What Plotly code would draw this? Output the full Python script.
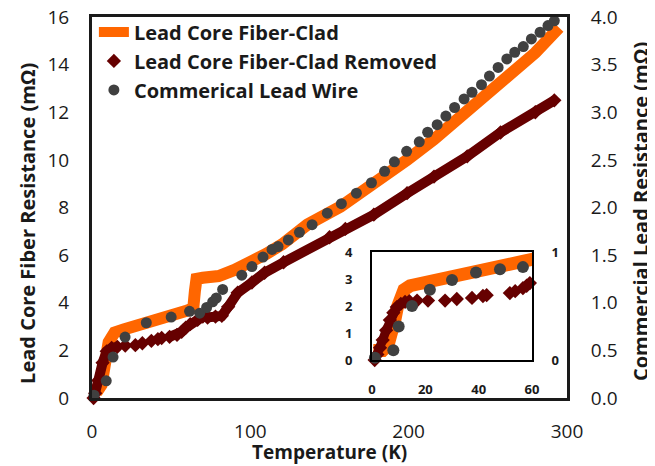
import plotly.graph_objects as go

# ---------------- data ----------------
# Main panel: Lead Core Fiber-Clad (left axis, mOhm)
clad_T = [0.5, 2, 4, 6, 7.5, 8.5, 9.5, 10.5, 12, 14.25, 20, 26.7, 39.2, 51.7, 59.2, 62, 64, 65, 66, 70, 80, 90,
          100, 110, 120, 136, 157, 178, 199, 216, 237, 259, 280, 295]
clad_R = [0.35, 0.3, 0.35, 0.55, 0.95, 1.45, 1.95, 2.35, 2.6, 2.75, 2.88, 2.99, 3.27, 3.5, 3.65, 3.72, 3.8, 4.5, 5.0,
          5.05, 5.12, 5.38, 5.65, 6.05, 6.45, 7.28, 8.04, 8.97, 10.0, 10.86, 12.04, 13.18, 14.5, 15.55]

# Main panel: Lead Core Fiber-Clad Removed (left axis, mOhm)
removed_T = [1, 2, 4, 6.7, 9.3, 12.4, 16, 21, 27.4, 31.8, 37.5, 41.6, 44, 49, 53.7, 56.6, 59.2, 62, 66.7, 70,
             73, 78, 82, 86, 92, 101, 109, 121, 150, 160, 178, 199, 216, 237, 258, 280, 292]
removed_R = [0, 0.2, 0.74, 1.48, 1.96, 2.1, 2.15, 2.2, 2.22, 2.3, 2.4, 2.47, 2.52, 2.57, 2.65, 2.78, 2.95, 3.1,
             3.28, 3.42, 3.38, 3.42, 3.45, 3.83, 4.42, 4.85, 5.26, 5.7, 6.75, 7.1, 7.7, 8.6, 9.3, 10.15, 11.15,
             12.0, 12.5]

# Main panel: Commerical Lead Wire (right axis, mOhm)
wire_T = [1.3, 9, 13.3, 20.9, 34.3, 50, 61.6, 68, 72.4, 76.2, 78.5, 82.5, 94.6, 101, 108, 113.7, 117.5, 124, 131,
          139, 148.6, 157.5, 167, 176.5, 184.8, 191, 198.7, 206.7, 212, 218, 223.5, 229, 235, 240, 246, 251,
          256.5, 262, 267, 272.4, 277.5, 283, 288, 292]
wire_R = [0.03, 0.18, 0.43, 0.64, 0.79, 0.85, 0.91, 0.89, 0.95, 1.01, 1.05, 1.14, 1.29, 1.38, 1.48, 1.56, 1.59,
          1.66, 1.74, 1.82, 1.94, 2.04, 2.15, 2.26, 2.38, 2.48, 2.59, 2.69, 2.79, 2.87, 2.96, 3.05, 3.14, 3.21,
          3.29, 3.38, 3.47, 3.56, 3.63, 3.69, 3.77, 3.84, 3.91, 3.96]

# Inset (0-60 K)
in_clad_T = [0.5, 2, 4, 6, 7.5, 8.5, 9.5, 10.5, 12, 14.25, 20, 26.7, 39.2, 51.7, 59.2, 61]
in_clad_R = [0.35, 0.3, 0.35, 0.55, 0.95, 1.45, 1.95, 2.35, 2.6, 2.75, 2.88, 2.99, 3.27, 3.52, 3.68, 3.75]
in_removed_T = [1, 2, 3, 4, 5.3, 6.7, 8, 9.3, 10.8, 12.4, 14, 16.9, 21, 27.4, 31.8, 37.5, 41.6, 43, 51.7, 53.7,
                56.6, 58, 59.2]
in_removed_R = [0, 0.2, 0.45, 0.74, 1.1, 1.48, 1.75, 1.96, 2.08, 2.15, 2.18, 2.2, 2.2, 2.2, 2.26, 2.3, 2.37, 2.4,
                2.48, 2.55, 2.66, 2.75, 2.85]
in_wire_T = [1.1, 8, 10, 15, 21.7, 30, 39, 48, 56.6]
in_wire_R = [0.02, 0.09, 0.31, 0.5, 0.65, 0.74, 0.81, 0.84, 0.86]

main_x_ticks = [0, 100, 200, 300]
main_left_ticks = [0, 2, 4, 6, 8, 10, 12, 14, 16]
main_right_ticks = [0.0, 0.5, 1.0, 1.5, 2.0, 2.5, 3.0, 3.5, 4.0]
inset_x_ticks = [0, 20, 40, 60]
inset_left_ticks = [0, 1, 2, 3, 4]
inset_right_ticks = [0, 1]

# ---------------- styling ----------------
ORANGE = "#FF6600"
DARKRED = "#660000"
GRAY = "#404040"
FONT = "Open Sans"

# dense part of the "removed" series is drawn as a thick band
removed_line_R = [r if (t <= 16 or t >= 48) else None for t, r in zip(removed_T, removed_R)]
in_removed_line_R = [r if (t <= 15) else None for t, r in zip(in_removed_T, in_removed_R)]

fig = go.Figure()

fig.add_trace(go.Scatter(x=clad_T, y=clad_R, mode="lines", name="Lead Core Fiber-Clad",
                         line=dict(color=ORANGE, width=12), xaxis="x", yaxis="y", cliponaxis=False))
fig.add_trace(go.Scatter(x=removed_T, y=removed_line_R, mode="lines", showlegend=False,
                         line=dict(color=DARKRED, width=10), xaxis="x", yaxis="y", cliponaxis=False,
                         connectgaps=False))
fig.add_trace(go.Scatter(x=removed_T, y=removed_R, mode="markers", name="Lead Core Fiber-Clad Removed",
                         marker=dict(symbol="diamond", color=DARKRED, size=11), xaxis="x", yaxis="y",
                         cliponaxis=False))
fig.add_trace(go.Scatter(x=wire_T, y=wire_R, mode="markers", name="Commerical Lead Wire",
                         marker=dict(symbol="circle", color=GRAY, size=11), xaxis="x", yaxis="y2",
                         cliponaxis=False))

# inset
fig.add_trace(go.Scatter(x=in_clad_T, y=in_clad_R, mode="lines", showlegend=False,
                         line=dict(color=ORANGE, width=13), xaxis="x2", yaxis="y3"))
fig.add_trace(go.Scatter(x=in_removed_T, y=in_removed_line_R, mode="lines", showlegend=False,
                         line=dict(color=DARKRED, width=9), xaxis="x2", yaxis="y3", connectgaps=False))
fig.add_trace(go.Scatter(x=in_removed_T, y=in_removed_R, mode="markers", showlegend=False,
                         marker=dict(symbol="diamond", color=DARKRED, size=11), xaxis="x2", yaxis="y3",
                         cliponaxis=False))
fig.add_trace(go.Scatter(x=in_wire_T, y=in_wire_R, mode="markers", showlegend=False,
                         marker=dict(symbol="circle", color=GRAY, size=12), xaxis="x2", yaxis="y4",
                         cliponaxis=False))

tickfont = dict(family=FONT, size=19, color="#1a1a1a")
inset_font = dict(family=FONT, size=13, color="#1a1a1a", weight="bold")
transparent = "rgba(0,0,0,0)"

common = dict(showgrid=False, zeroline=False, showline=True, automargin=False, ticks="outside",
              tickcolor=transparent, ticklabeloverflow="allow")

# the page body has an 8px margin, so the figure is 8px smaller and margins are compensated
fig.update_layout(
    width=647, height=458,
    margin=dict(l=84, r=88, t=9, b=68, autoexpand=False),
    paper_bgcolor="white", plot_bgcolor="white",
    font=dict(family=FONT, color="#1a1a1a"),
    showlegend=True,
    legend=dict(x=0.004, y=1.012, xanchor="left", yanchor="top", bgcolor="rgba(0,0,0,0)",
                font=dict(family=FONT, size=20, color="#1a1a1a", weight="bold"),
                tracegroupgap=0, itemwidth=30),
    xaxis=dict(domain=[0, 1], range=[0, 300], tickvals=main_x_ticks, linecolor="#1a1a1a", linewidth=3,
               mirror=True, ticklen=14, tickfont=tickfont, **common),
    yaxis=dict(domain=[0, 1], range=[0, 16], tickvals=main_left_ticks, linecolor="#1a1a1a", linewidth=3,
               ticklen=16, tickfont=tickfont, **common),
    yaxis2=dict(overlaying="y", side="right", range=[0, 4], tickvals=main_right_ticks,
                ticktext=[f"{v:.1f}" for v in main_right_ticks], linecolor="#1a1a1a", linewidth=3,
                ticklen=17, tickfont=tickfont, **common),
    xaxis2=dict(domain=[0.5895, 0.9263], anchor="y3", range=[0, 60], tickvals=inset_x_ticks,
                linecolor="black", linewidth=2, mirror=True, ticklen=16, tickfont=inset_font, **common),
    yaxis3=dict(domain=[0.0997, 0.3832], anchor="x2", range=[0, 4], tickvals=inset_left_ticks,
                linecolor="black", linewidth=2, ticklen=15, tickfont=inset_font, **common),
    yaxis4=dict(overlaying="y3", anchor="x2", side="right", range=[0, 1], tickvals=inset_right_ticks,
                linecolor="black", linewidth=2, ticklen=15, tickfont=inset_font, **common),
)

title_font = dict(family=FONT, size=20, color="#1a1a1a", weight="bold")
fig.add_annotation(text="Lead Core Fiber Resistance (mΩ)", xref="paper", yref="paper", x=-0.1347, y=0.457,
                   textangle=-90, showarrow=False, font=title_font, xanchor="center", yanchor="middle")
fig.add_annotation(text="Commercial Lead Resistance (mΩ)", xref="paper", yref="paper", x=1.1537, y=0.488,
                   textangle=-90, showarrow=False, font=title_font, xanchor="center", yanchor="middle")
fig.add_annotation(text="Temperature (K)", xref="paper", yref="paper", x=0.499, y=-0.1417,
                   showarrow=False, font=dict(family=FONT, size=19, color="#1a1a1a", weight="bold"),
                   xanchor="center", yanchor="middle")

fig.write_html("out.html")
